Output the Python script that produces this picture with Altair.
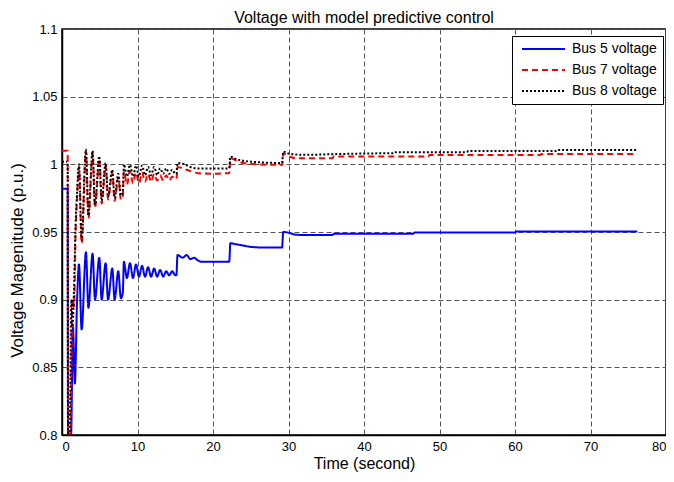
import altair as alt
import pandas as pd

series_names = ["Bus 5 voltage", "Bus 7 voltage", "Bus 8 voltage"]
series_colors = ["#0000ff", "#ff0000", "#000000"]
series_dashes = [[1, 0], [6, 4], [2, 2]]

x_ticks = [0, 10, 20, 30, 40, 50, 60, 70, 80]
y_ticks = [0.8, 0.85, 0.9, 0.95, 1.0, 1.05, 1.1]

bus5_t = [0, 0.75, 0.8, 1.2, 1.45, 1.7, 2.0, 2.25, 2.6, 3.17, 3.5, 4.05, 4.37, 4.94, 5.25,
          5.78, 6.1, 6.66, 6.97, 7.45, 7.8, 8.05, 8.2, 8.6, 9.0, 9.4, 9.8, 10.2, 10.6, 11.0,
          11.4, 11.8, 12.2, 12.6, 13.0, 13.4, 13.8, 14.2, 14.6, 15.0, 15.15, 15.3, 16.0, 16.5,
          17.0, 17.5, 18.0, 18.5, 19.5, 22.0, 22.15, 22.3, 23.0, 24.0, 25.0, 27.0, 29.0, 29.15,
          29.3, 30.0, 31.0, 32.0, 35.8, 36.0, 46.5, 46.7, 60.0, 60.2, 76.2]
bus5_v = [0.982, 0.982, 0.80, 0.80, 0.88, 0.838, 0.90, 0.926, 0.878, 0.935, 0.894, 0.934, 0.90, 0.931, 0.90,
          0.927, 0.90, 0.923, 0.90, 0.921, 0.901, 0.905, 0.928, 0.916, 0.927, 0.916, 0.926, 0.917, 0.925, 0.917,
          0.924, 0.917, 0.923, 0.917, 0.922, 0.917, 0.921, 0.918, 0.921, 0.918, 0.918, 0.933, 0.931, 0.933,
          0.930, 0.931, 0.929, 0.928, 0.928, 0.928, 0.928, 0.9417, 0.941, 0.940, 0.939, 0.9385, 0.9385, 0.9385,
          0.950, 0.9495, 0.948, 0.9478, 0.9478, 0.9487, 0.9487, 0.9497, 0.9497, 0.9503, 0.9503]

bus7_t = [0, 0.75, 0.8, 1.1, 1.3, 1.45, 1.6, 1.8, 2.0, 2.25, 2.6, 3.17, 3.5, 4.05, 4.37, 4.94,
          5.25, 5.78, 6.1, 6.66, 6.97, 7.45, 7.8, 8.05, 8.2, 8.6, 9.0, 9.4, 9.8, 10.2, 10.6, 11.0,
          11.4, 11.8, 12.2, 12.6, 13.0, 13.4, 13.8, 14.2, 14.6, 15.0, 15.15, 15.3, 16.0, 17.0, 18.0,
          20.0, 22.0, 22.15, 22.3, 23.0, 24.0, 26.0, 29.0, 29.15, 29.3, 30.0, 31.0, 35.8, 36.0,
          48.5, 48.7, 63.3, 63.5, 76.2]
bus7_v = [1.01, 1.01, 0.80, 0.80, 0.88, 0.90, 0.895, 0.95, 0.975, 0.998, 0.942, 1.010, 0.960, 1.008, 0.968, 1.004,
          0.971, 0.999, 0.974, 0.994, 0.973, 0.990, 0.974, 0.976, 0.995, 0.985, 0.995, 0.986, 0.994, 0.986, 0.994, 0.987,
          0.993, 0.987, 0.993, 0.988, 0.992, 0.988, 0.992, 0.988, 0.991, 0.989, 0.989, 0.998, 0.997, 0.995, 0.9935,
          0.993, 0.9935, 0.9935, 1.0045, 1.003, 1.001, 1.000, 0.9996, 0.9996, 1.008, 1.006, 1.0045, 1.0045, 1.0057,
          1.0057, 1.0069, 1.0069, 1.0077, 1.0077]

bus8_t = [0, 0.75, 0.8, 1.0, 1.25, 1.4, 1.55, 1.8, 2.0, 2.25, 2.6, 3.17, 3.5, 4.05, 4.37, 4.94,
          5.25, 5.78, 6.1, 6.66, 6.97, 7.45, 7.8, 8.05, 8.2, 8.6, 9.0, 9.4, 9.8, 10.2, 10.6, 11.0,
          11.4, 11.8, 12.2, 12.6, 13.0, 13.4, 13.8, 14.2, 14.6, 15.0, 15.15, 15.3, 16.0, 17.0, 18.0,
          22.0, 22.15, 22.3, 23.0, 25.0, 29.0, 29.15, 29.3, 30.0, 32.0, 36.0, 42.0, 44.0, 44.2,
          53.6, 53.8, 65.5, 65.7, 76.2]
bus8_v = [1.002, 1.002, 0.80, 0.80, 0.90, 0.88, 0.90, 0.955, 0.98, 1.000, 0.944, 1.011, 0.962, 1.010, 0.970, 1.006,
          0.973, 1.001, 0.976, 0.996, 0.975, 0.993, 0.977, 0.979, 1.000, 0.991, 0.9996, 0.991, 0.999, 0.991, 0.999, 0.992,
          0.998, 0.992, 0.998, 0.992, 0.997, 0.993, 0.997, 0.993, 0.996, 0.993, 0.993, 1.001, 1.0005, 0.998, 0.997,
          0.997, 0.997, 1.0057, 1.004, 1.002, 1.001, 1.001, 1.0094, 1.008, 1.007, 1.0075, 1.0081, 1.0081, 1.009,
          1.009, 1.0098, 1.0098, 1.0106, 1.0106]

rows = []
for name, ts, vs in zip(series_names, [bus5_t, bus7_t, bus8_t], [bus5_v, bus7_v, bus8_v]):
    for t, v in zip(ts, vs):
        rows.append({"series": name, "t": t, "v": v})
df = pd.DataFrame(rows)

FONT = "Liberation Sans"

legend = alt.Legend(
    title=None, orient="none", legendX=450, legendY=7,
    strokeColor="black", fillColor="white", padding=6,
    symbolType="M-0.571,0H5.571", symbolSize=196, symbolStrokeWidth=2,
    labelOffset=38, labelFont=FONT, labelFontSize=14, labelColor="black",
    labelExpr="datum.label + '\u00a0'",
    clipHeight=14, rowPadding=7, cornerRadius=0,
)

chart = alt.Chart(df).mark_line(strokeWidth=2, clip=True, interpolate="monotone").encode(
    x=alt.X("t:Q", scale=alt.Scale(domain=[0, 80], nice=False),
            axis=alt.Axis(values=x_ticks, title="Time (second)", labelPadding=5,
                          titlePadding=2, titleFontSize=16)),
    y=alt.Y("v:Q", scale=alt.Scale(domain=[0.8, 1.1], nice=False, zero=False),
            axis=alt.Axis(values=y_ticks, title="Voltage Magenitude (p.u.)",
                          labelExpr="format(datum.value, '.3~g')", labelPadding=5,
                          titleFontSize=17, titleX=-36, titleY=231)),
    color=alt.Color("series:N", scale=alt.Scale(domain=series_names, range=series_colors), legend=legend),
    strokeDash=alt.StrokeDash("series:N", scale=alt.Scale(domain=series_names, range=series_dashes), legend=legend),
    order=alt.Order("t:Q"),
).properties(
    width=604, height=406,
    title=alt.Title("Voltage with model predictive control", font=FONT, fontSize=16,
                    fontWeight="normal", color="black", offset=-3, frame="group"),
    autosize=alt.AutoSizeParams(type="none"),
    padding={"left": 54, "top": 21, "right": 0, "bottom": 39},
).configure_axis(
    labelFont=FONT, labelFontSize=13, labelColor="black",
    titleFont=FONT, titleFontWeight="normal", titleColor="black",
    grid=True, gridColor="#555555", gridDash=[5, 3], gridWidth=1, gridOpacity=1,
    domainColor="black", domainWidth=1.5, ticks=False, tickSize=0,
).configure_view(
    stroke="black", strokeWidth=1.5,
)

chart.save("out.html", embed_options={"renderer": "svg", "actions": False})
